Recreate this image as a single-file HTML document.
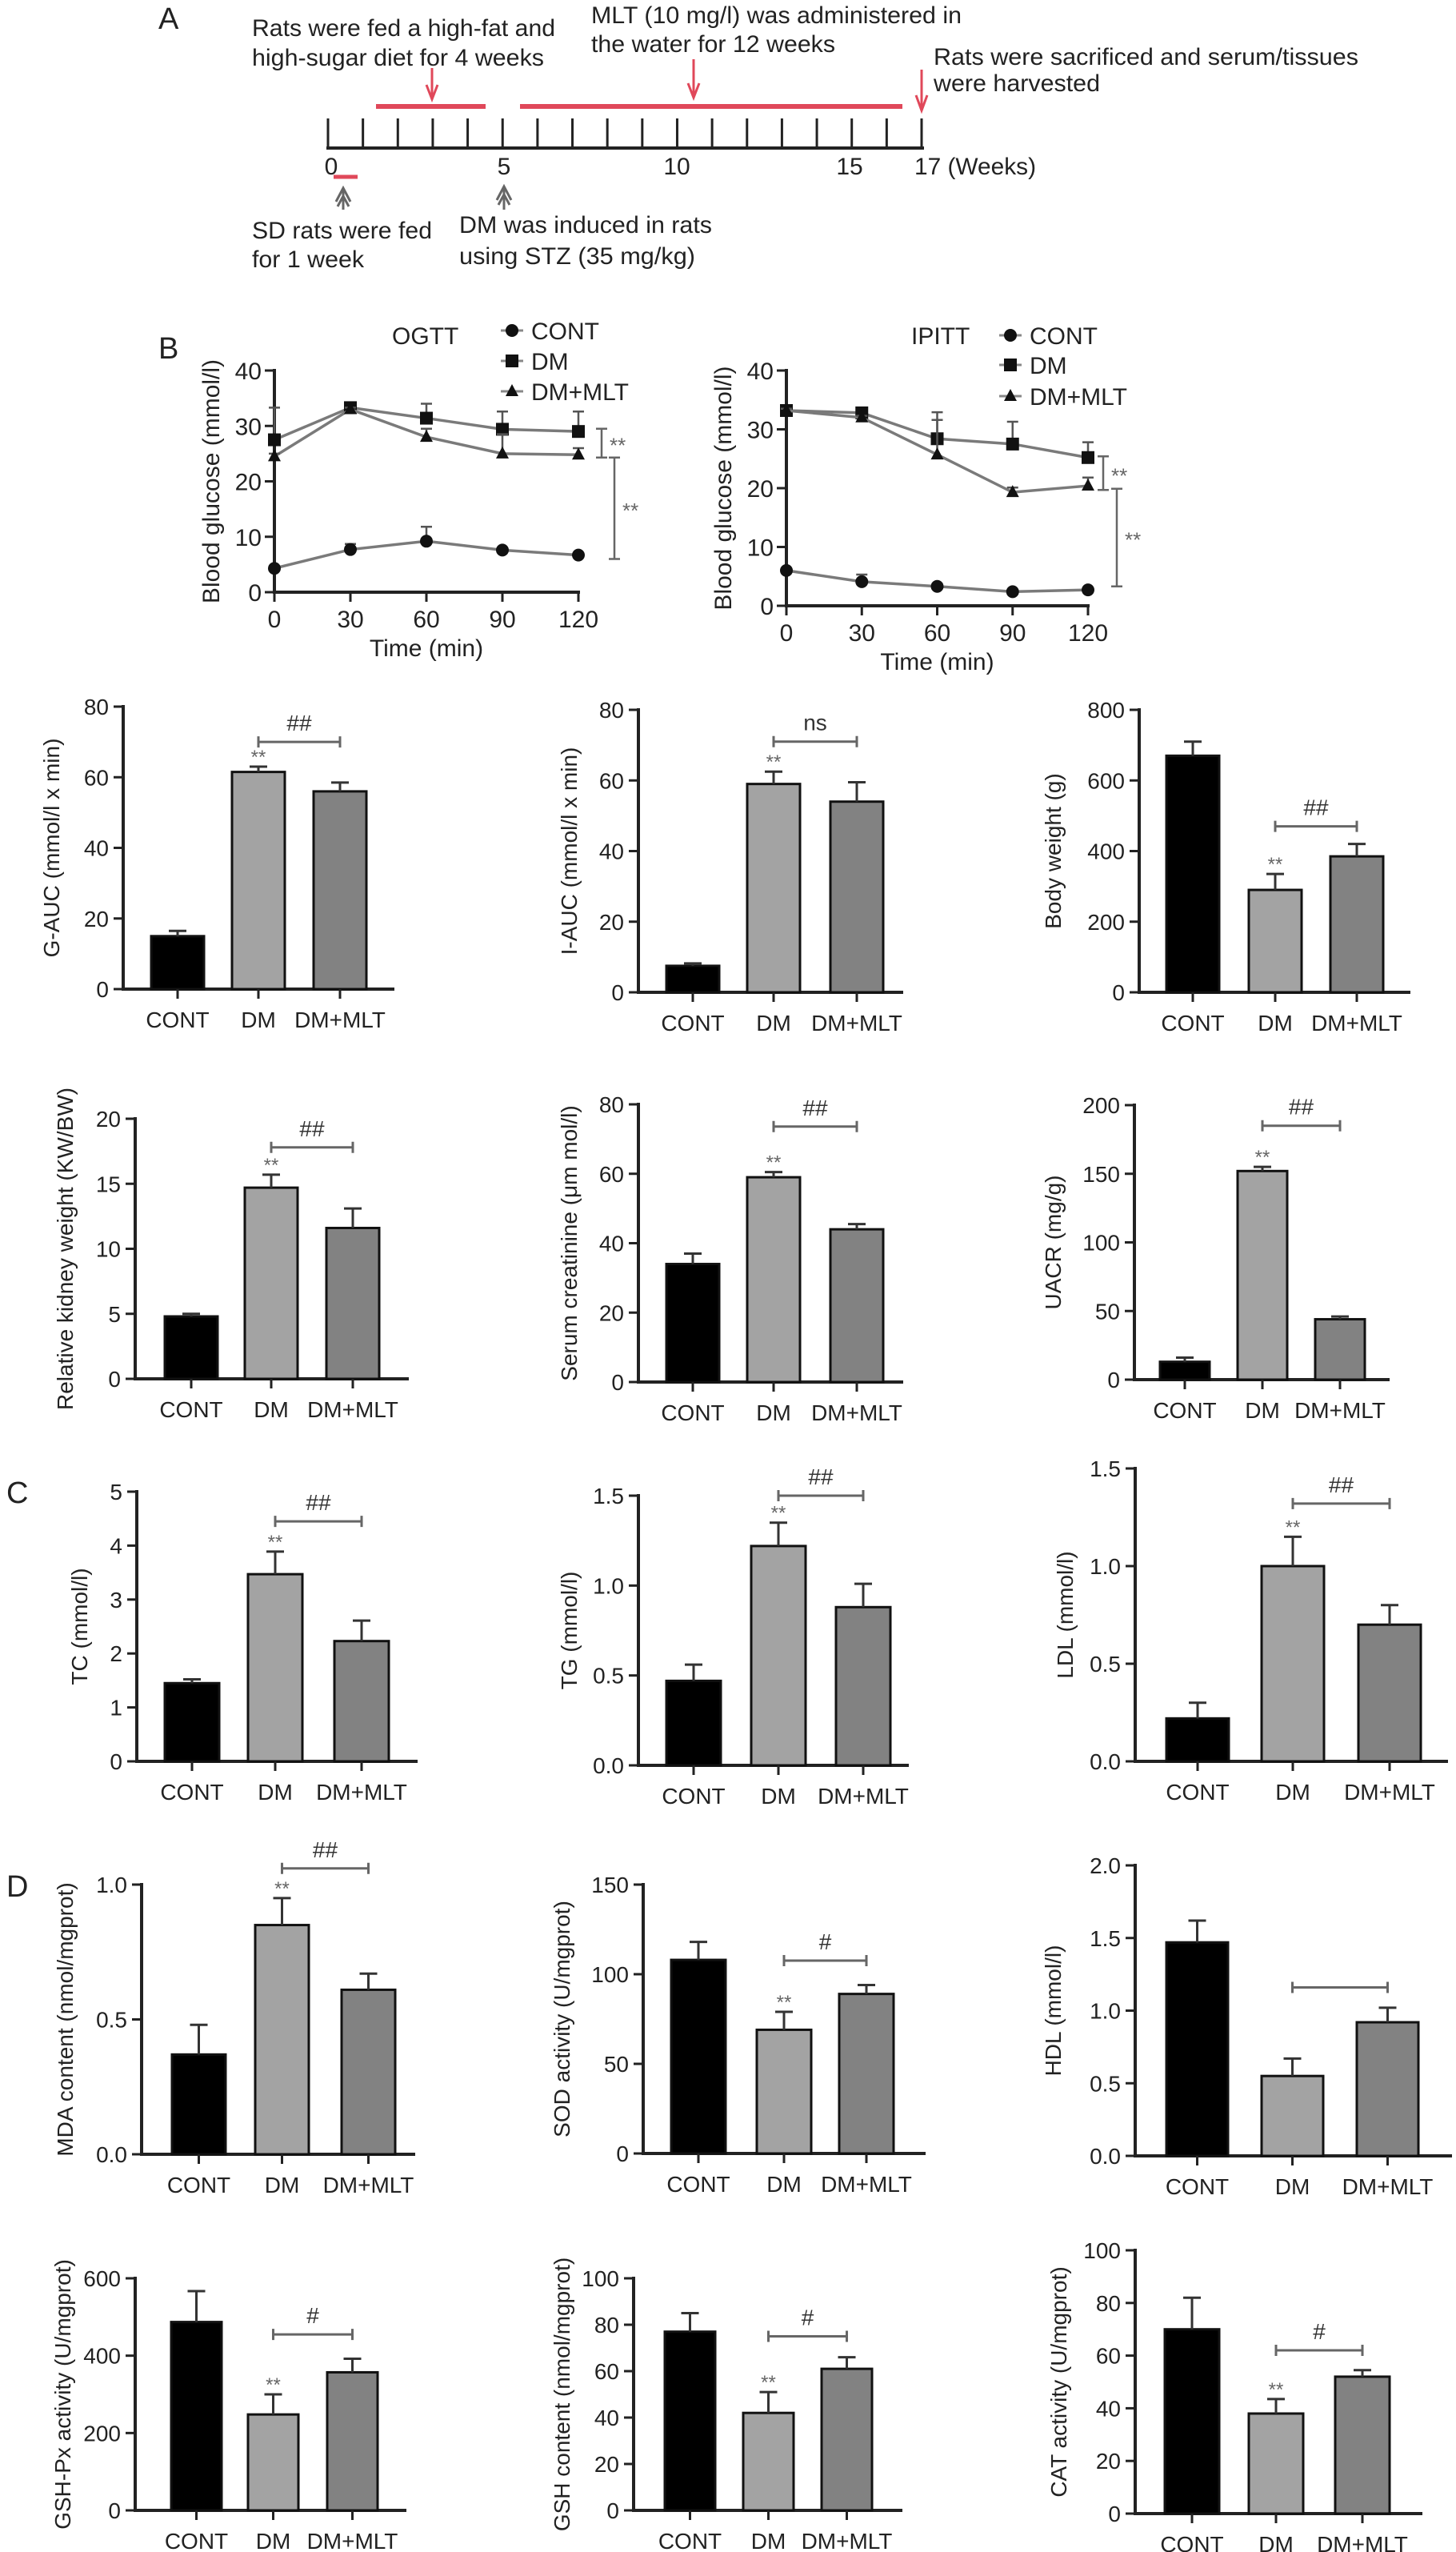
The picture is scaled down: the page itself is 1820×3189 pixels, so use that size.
<!DOCTYPE html>
<html><head><meta charset="utf-8"><title>Figure</title>
<style>
html,body{margin:0;padding:0;background:#fff;}
svg{display:block;font-family:"Liberation Sans",Arial,sans-serif;}
</style></head>
<body>
<svg id="fig" xmlns="http://www.w3.org/2000/svg" width="1820" height="3189" viewBox="0 0 1820 3189">
<rect x="0" y="0" width="1820" height="3189" fill="#fff"/>
<g id="panelA" fill="#222" font-size="30">
  <text x="198" y="36" font-size="38">A</text>
  <text x="315" y="45" textLength="379" lengthAdjust="spacingAndGlyphs">Rats were fed a high-fat and</text>
  <text x="315" y="82" textLength="365" lengthAdjust="spacingAndGlyphs">high-sugar diet for 4 weeks</text>
  <text x="739" y="29" textLength="463" lengthAdjust="spacingAndGlyphs">MLT (10 mg/l) was administered in</text>
  <text x="739" y="65" textLength="305" lengthAdjust="spacingAndGlyphs">the water for 12 weeks</text>
  <text x="1167" y="81" textLength="531" lengthAdjust="spacingAndGlyphs">Rats were sacrificed and serum/tissues</text>
  <text x="1167" y="114" textLength="208" lengthAdjust="spacingAndGlyphs">were harvested</text>
  <text x="315" y="298" textLength="225" lengthAdjust="spacingAndGlyphs">SD rats were fed</text>
  <text x="315" y="334" textLength="140" lengthAdjust="spacingAndGlyphs">for 1 week</text>
  <text x="574" y="291" textLength="316" lengthAdjust="spacingAndGlyphs">DM was induced in rats</text>
  <text x="574" y="330" textLength="295" lengthAdjust="spacingAndGlyphs">using STZ (35 mg/kg)</text>
  <text x="414" y="218" text-anchor="middle">0</text>
  <text x="630" y="218" text-anchor="middle">5</text>
  <text x="846" y="218" text-anchor="middle">10</text>
  <text x="1062" y="218" text-anchor="middle">15</text>
  <text x="1143" y="218" textLength="152" lengthAdjust="spacingAndGlyphs">17 (Weeks)</text>
  <line x1="408" y1="185" x2="1155" y2="185" stroke="#222" stroke-width="4"/>
  <g id="tlticks"></g>
  <line x1="470" y1="133" x2="607" y2="133" stroke="#e0485a" stroke-width="6"/>
  <line x1="650" y1="133" x2="1128" y2="133" stroke="#e0485a" stroke-width="6"/>
  <line x1="417" y1="221" x2="447" y2="221" stroke="#e0485a" stroke-width="5"/>
  <g stroke="#e0485a" stroke-width="3" fill="none">
    <path d="M540 85 V123 M533 106 L540 124 L547 106"/>
    <path d="M867 74 V121 M860 104 L867 122 L874 104"/>
    <path d="M1152 87 V137 M1145 119 L1152 138 L1159 119"/>
  </g>
  <g stroke="#666" stroke-width="3" fill="none">
    <path d="M429 262 V236 M420 252 L429 235 L438 252 M422 258 L429 245 L436 258"/>
    <path d="M630 262 V233 M621 250 L630 233 L639 250 M623 256 L630 243 L637 256"/>
  </g>
</g>
<g id="charts"></g>
</svg>
<script>
// ---------- data ----------
const groups = ['CONT', 'DM', 'DM+MLT'];
const timePoints = [0, 30, 60, 90, 120];
const glucoseTicks = [0, 10, 20, 30, 40];

const ogttCont = [4.3, 7.7, 9.2, 7.6, 6.7];
const ogttContErr = [0.3, 1.0, 2.6, 0.4, 0.3];
const ogttDm = [27.5, 33.3, 31.4, 29.4, 29.0];
const ogttDmErr = [5.8, 0.3, 2.6, 3.2, 3.6];
const ogttMlt = [24.5, 33.0, 28.0, 25.0, 24.8];
const ogttMltErr = [0.5, 0.3, 1.5, 3.5, 1.2];

const ipittCont = [6.0, 4.1, 3.3, 2.4, 2.7];
const ipittContErr = [0.3, 1.2, 0.4, 0.3, 0.3];
const ipittDm = [33.2, 32.8, 28.4, 27.5, 25.2];
const ipittDmErr = [0.3, 0.5, 4.5, 3.8, 2.6];
const ipittMlt = [33.2, 32.0, 25.7, 19.3, 20.4];
const ipittMltErr = [0.3, 0.3, 5.9, 0.8, 1.4];

const gaucVals = [15, 61.5, 56];   const gaucErr = [1.5, 1.5, 2.5];
const iaucVals = [7.5, 59, 54];    const iaucErr = [0.7, 3.5, 5.5];
const bodyVals = [670, 290, 385];  const bodyErr = [40, 45, 35];
const kidneyVals = [4.8, 14.7, 11.6]; const kidneyErr = [0.2, 1.0, 1.5];
const creatVals = [34, 59, 44];    const creatErr = [3, 1.5, 1.5];
const uacrVals = [13, 152, 44];    const uacrErr = [3, 3, 2];
const tcVals = [1.45, 3.47, 2.23]; const tcErr = [0.07, 0.42, 0.38];
const tgVals = [0.47, 1.22, 0.88]; const tgErr = [0.09, 0.13, 0.13];
const ldlVals = [0.22, 1.0, 0.7];  const ldlErr = [0.08, 0.15, 0.1];
const mdaVals = [0.37, 0.85, 0.61]; const mdaErr = [0.11, 0.1, 0.06];
const sodVals = [108, 69, 89];     const sodErr = [10, 10, 5];
const hdlVals = [1.47, 0.55, 0.92]; const hdlErr = [0.15, 0.12, 0.1];
const gpxVals = [487, 248, 357];   const gpxErr = [80, 52, 35];
const gshVals = [77, 42, 61];      const gshErr = [8, 9, 5];
const catVals = [70, 38, 52];      const catErr = [12, 5.5, 2.5];

// ---------- helpers ----------
const NS = 'http://www.w3.org/2000/svg';
const root = document.getElementById('charts');
function mk(tag, attrs, parent) {
  const e = document.createElementNS(NS, tag);
  for (const k in attrs) e.setAttribute(k, attrs[k]);
  (parent || root).appendChild(e);
  return e;
}
function fmt(v, dec) { return dec ? v.toFixed(dec) : String(Math.round(v)); }

// timeline ticks
const tl = document.getElementById('tlticks');
for (let w = 0; w <= 17; w++) {
  const x = 410 + w * (1152 - 410) / 17;
  const t = mk('line', {x1: x, y1: 148, x2: x, y2: 185, stroke: '#222', 'stroke-width': 3}, tl);
  
  
}

// ---------- bar charts ----------
const barFills = ['#000000', '#a3a3a3', '#828282'];
function drawBar(cfg, vals, errs) {
  const g = mk('g', {});
  
  
  const sy = v => cfg.y0 - (v / cfg.max) * (cfg.y0 - cfg.yTop);
  const ya = mk('line', {x1: cfg.ax, y1: cfg.yTop - 2, x2: cfg.ax, y2: cfg.y0 + 2, stroke: '#222', 'stroke-width': 4}, g);
  
  
  const xa = mk('line', {x1: cfg.ax - 2, y1: cfg.y0, x2: cfg.end, y2: cfg.y0, stroke: '#222', 'stroke-width': 4}, g);
  
  
  for (let v = 0; v <= cfg.max + 1e-9; v += cfg.step) {
    const y = sy(v);
    const tk = mk('line', {x1: cfg.ax - 12, y1: y, x2: cfg.ax, y2: y, stroke: '#222', 'stroke-width': 3}, g);
    
    
    const tl = mk('text', {x: cfg.ax - 18, y: y + 10, 'text-anchor': 'end', 'font-size': 28, fill: '#222'}, g);
    tl.textContent = fmt(v, cfg.dec);
    
    
  }
  const centers = [];
  for (let i = 0; i < vals.length; i++) {
    const x = cfg.bars[i], cx = x + cfg.bw / 2;
    centers.push(cx);
    const top = sy(vals[i]);
    const b = mk('rect', {x: x, y: top, width: cfg.bw, height: cfg.y0 - top, fill: barFills[i], stroke: '#111', 'stroke-width': 3}, g);
    
    
    const et = sy(vals[i] + errs[i]);
    const e = mk('path', {d: `M${cx} ${top} V${et} M${cx - 11} ${et} H${cx + 11}`, stroke: '#333', 'stroke-width': 3, fill: 'none'}, g);
    
    
    const xt = mk('line', {x1: cx, y1: cfg.y0, x2: cx, y2: cfg.y0 + 12, stroke: '#222', 'stroke-width': 3}, g);
    
    
    const xl = mk('text', {x: cx, y: cfg.y0 + 48, 'text-anchor': 'middle', 'font-size': 28, fill: '#222'}, g);
    xl.textContent = groups[i];
    
    
  }
  const midY = (cfg.y0 + cfg.yTop) / 2;
  const tx = cfg.ax + cfg.tOff;
  const t = mk('text', {x: tx, y: midY, 'text-anchor': 'middle', 'font-size': 28, fill: '#222', transform: `rotate(-90 ${tx} ${midY})`, dy: 10}, g);
  t.textContent = cfg.title;
  
  
  if (cfg.stars) {
    const s = mk('text', {x: centers[1], y: sy(vals[1] + errs[1]) - 4, 'text-anchor': 'middle', 'font-size': 24, fill: '#666'}, g);
    s.textContent = '**';
    
    
  }
  if (cfg.brV !== undefined) {
    const by = sy(cfg.brV);
    const br = mk('path', {d: `M${centers[1]} ${by} H${centers[2]} M${centers[1]} ${by - 7} V${by + 7} M${centers[2]} ${by - 7} V${by + 7}`, stroke: '#666', 'stroke-width': 3, fill: 'none'}, g);
    
    
    if (cfg.brT) {
      const bt = mk('text', {x: (centers[1] + centers[2]) / 2, y: by - 14, 'text-anchor': 'middle', 'font-size': 28, fill: '#333'}, g);
      bt.textContent = cfg.brT;
      
      
    }
  }
}

drawBar({name: 'g-auc', ax: 154, y0: 1236, yTop: 883, max: 80, step: 20, dec: 0, bars: [189, 290, 392], bw: 66, end: 493, tOff: -90, title: 'G-AUC (mmol/l x min)', stars: true, brV: 70, brT: '##'}, gaucVals, gaucErr);
drawBar({name: 'i-auc', ax: 798, y0: 1240, yTop: 887, max: 80, step: 20, dec: 0, bars: [833, 934, 1038], bw: 66, end: 1129, tOff: -87, title: 'I-AUC (mmol/l x min)', stars: true, brV: 71, brT: 'ns'}, iaucVals, iaucErr);
drawBar({name: 'body-weight', ax: 1424, y0: 1240, yTop: 887, max: 800, step: 200, dec: 0, bars: [1458, 1561, 1663], bw: 66, end: 1763, tOff: -108, title: 'Body weight (g)', stars: true, brV: 470, brT: '##'}, bodyVals, bodyErr);
drawBar({name: 'kidney-weight', ax: 169, y0: 1723, yTop: 1398, max: 20, step: 5, dec: 0, bars: [206, 306, 408], bw: 66, end: 511, tOff: -88, title: 'Relative kidney weight (KW/BW)', stars: true, brV: 17.8, brT: '##'}, kidneyVals, kidneyErr);
drawBar({name: 'serum-creatinine', ax: 798, y0: 1727, yTop: 1380, max: 80, step: 20, dec: 0, bars: [833, 934, 1038], bw: 66, end: 1129, tOff: -87, title: 'Serum  creatinine (\u03bcm mol/l)', stars: true, brV: 73.6, brT: '##'}, creatVals, creatErr);
drawBar({name: 'uacr', ax: 1418, y0: 1724, yTop: 1381, max: 200, step: 50, dec: 0, bars: [1450, 1547, 1644], bw: 62, end: 1737, tOff: -102, title: 'UACR (mg/g)', stars: true, brV: 185, brT: '##'}, uacrVals, uacrErr);
drawBar({name: 'tc', ax: 171, y0: 2201, yTop: 1864, max: 5, step: 1, dec: 0, bars: [206, 310, 418], bw: 68, end: 522, tOff: -72, title: 'TC (mmol/l)', stars: true, brV: 4.45, brT: '##'}, tcVals, tcErr);
drawBar({name: 'tg', ax: 798, y0: 2206, yTop: 1869, max: 1.5, step: 0.5, dec: 1, bars: [833, 939, 1045], bw: 68, end: 1136, tOff: -87, title: 'TG (mmol/l)', stars: true, brV: 1.5, brT: '##'}, tgVals, tgErr);
drawBar({name: 'ldl', ax: 1419, y0: 2201, yTop: 1835, max: 1.5, step: 0.5, dec: 1, bars: [1458, 1577, 1698], bw: 78, end: 1810, tOff: -88, title: 'LDL (mmol/l)', stars: true, brV: 1.32, brT: '##'}, ldlVals, ldlErr);
drawBar({name: 'mda', ax: 177, y0: 2692, yTop: 2355, max: 1.0, step: 0.5, dec: 1, bars: [215, 319, 427], bw: 67, end: 519, tOff: -96, title: 'MDA content (nmol/mgprot)', stars: true, brV: 1.06, brT: '##'}, mdaVals, mdaErr);
drawBar({name: 'sod', ax: 804, y0: 2691, yTop: 2355, max: 150, step: 50, dec: 0, bars: [839, 946, 1049], bw: 68, end: 1157, tOff: -102, title: 'SOD activity (U/mgprot)', stars: true, brV: 107.6, brT: '#'}, sodVals, sodErr);
drawBar({name: 'hdl', ax: 1419, y0: 2694, yTop: 2331, max: 2.0, step: 0.5, dec: 1, bars: [1458, 1577, 1696], bw: 77, end: 1815, tOff: -103, title: 'HDL (mmol/l)', stars: false, brV: 1.16, brT: ''}, hdlVals, hdlErr);
drawBar({name: 'gsh-px', ax: 169, y0: 3137, yTop: 2847, max: 600, step: 200, dec: 0, bars: [214, 310, 409], bw: 63, end: 508, tOff: -91, title: 'GSH-Px activity (U/mgprot)', stars: true, brV: 455, brT: '#'}, gpxVals, gpxErr);
drawBar({name: 'gsh', ax: 792, y0: 3137, yTop: 2847, max: 100, step: 20, dec: 0, bars: [831, 929, 1027], bw: 63, end: 1128, tOff: -90, title: 'GSH content (nmol/mgprot)', stars: true, brV: 75, brT: '#'}, gshVals, gshErr);
drawBar({name: 'cat', ax: 1419, y0: 3141, yTop: 2812, max: 100, step: 20, dec: 0, bars: [1456, 1561, 1669], bw: 68, end: 1778, tOff: -96, title: 'CAT activity (U/mgprot)', stars: true, brV: 62, brT: '#'}, catVals, catErr);

// ---------- line charts ----------
function marker(g, kind, x, y) {
  let m;
  if (kind === 'circle') m = mk('circle', {cx: x, cy: y, r: 8, fill: '#111'}, g);
  else if (kind === 'square') m = mk('rect', {x: x - 8, y: y - 8, width: 16, height: 16, fill: '#111'}, g);
  else m = mk('path', {d: `M${x} ${y - 9} L${x + 8} ${y + 6} L${x - 8} ${y + 6} Z`, fill: '#111'}, g);
  return m;
}
function drawLine(cfg, series) {
  const g = mk('g', {});
  
  
  const sx = t => cfg.ax + (t / 120) * (cfg.x120 - cfg.ax);
  const sy = v => cfg.y0 - (v / 40) * (cfg.y0 - cfg.y40);
  const ya = mk('line', {x1: cfg.ax, y1: cfg.y40 - 2, x2: cfg.ax, y2: cfg.y0 + 2, stroke: '#222', 'stroke-width': 4}, g);
  
  
  const xa = mk('line', {x1: cfg.ax - 2, y1: cfg.y0, x2: cfg.x120 + 2, y2: cfg.y0, stroke: '#222', 'stroke-width': 4}, g);
  
  
  glucoseTicks.forEach(v => {
    const y = sy(v);
    const tk = mk('line', {x1: cfg.ax - 12, y1: y, x2: cfg.ax, y2: y, stroke: '#222', 'stroke-width': 3}, g);
    
    
    const tl = mk('text', {x: cfg.ax - 16, y: y + 11, 'text-anchor': 'end', 'font-size': 30, fill: '#222'}, g);
    tl.textContent = String(v);
    
    
  });
  timePoints.forEach(t => {
    const x = sx(t);
    const tk = mk('line', {x1: x, y1: cfg.y0, x2: x, y2: cfg.y0 + 12, stroke: '#222', 'stroke-width': 3}, g);
    
    
    const tl = mk('text', {x: x, y: cfg.y0 + 44, 'text-anchor': 'middle', 'font-size': 30, fill: '#222'}, g);
    tl.textContent = String(t);
    
    
  });
  const xt = mk('text', {x: (cfg.ax + cfg.x120) / 2, y: cfg.y0 + 80, 'text-anchor': 'middle', 'font-size': 30, fill: '#222'}, g);
  xt.textContent = 'Time (min)';
  
  
  const my = (cfg.y0 + cfg.y40) / 2, tx = cfg.ax - 80;
  const yt = mk('text', {x: tx, y: my, dy: 11, 'text-anchor': 'middle', 'font-size': 30, fill: '#222', transform: `rotate(-90 ${tx} ${my})`}, g);
  yt.textContent = 'Blood glucose (mmol/l)';
  
  
  const ti = mk('text', {x: cfg.titleX, y: 430, 'font-size': 30, fill: '#222'}, g);
  ti.textContent = cfg.title;
  
  
  series.forEach((s, si) => {
    const pts = timePoints.map((t, i) => sx(t) + ',' + sy(s.vals[i])).join(' ');
    const pl = mk('polyline', {points: pts, fill: 'none', stroke: '#7a7a7a', 'stroke-width': 3.5}, g);
    
    
    timePoints.forEach((t, i) => {
      const x = sx(t), y = sy(s.vals[i]), et = sy(s.vals[i] + s.errs[i]);
      const e = mk('path', {d: `M${x} ${y} V${et} M${x - 7} ${et} H${x + 7}`, stroke: '#555', 'stroke-width': 2.5, fill: 'none'}, g);
      
      
      const m = marker(g, s.marker, x, y);
      
      
    });
    // legend entry
    const ly = cfg.legY[si];
    const ll = mk('line', {x1: cfg.legX - 14, y1: ly - 11, x2: cfg.legX + 14, y2: ly - 11, stroke: '#888', 'stroke-width': 3}, g);
    
    
    const lm = marker(g, s.marker, cfg.legX, ly - 11);
    
    
    const lt = mk('text', {x: cfg.legX + 24, y: ly, 'font-size': 30, fill: '#222'}, g);
    lt.textContent = groups[si];
    
    
  });
  cfg.brackets.forEach(b => {
    const y1 = sy(b.from), y2 = sy(b.to);
    const p = mk('path', {d: `M${b.x} ${y1} V${y2} M${b.x - 7} ${y1} H${b.x + 7} M${b.x - 7} ${y2} H${b.x + 7}`, stroke: '#666', 'stroke-width': 2.5, fill: 'none'}, g);
    
    
    const st = mk('text', {x: b.x + 10, y: (y1 + y2) / 2 + 12, 'font-size': 26, fill: '#666'}, g);
    st.textContent = '**';
    
    
  });
}

const bl = mk('text', {x: 198, y: 448, 'font-size': 38, fill: '#222'});
bl.textContent = 'B';


const cl = mk('text', {x: 8, y: 1878, 'font-size': 38, fill: '#222'});
cl.textContent = 'C';


const dl = mk('text', {x: 8, y: 2370, 'font-size': 38, fill: '#222'});
dl.textContent = 'D';



drawLine({name: 'ogtt', title: 'OGTT', titleX: 490, ax: 343, x120: 723, y0: 740, y40: 463, legX: 640, legY: [424, 462, 500],
  brackets: [{x: 752, from: 29.5, to: 24.3}, {x: 768, from: 24.3, to: 6}]},
  [{key: 'cont', marker: 'circle', vals: ogttCont, errs: ogttContErr},
   {key: 'dm', marker: 'square', vals: ogttDm, errs: ogttDmErr},
   {key: 'dm-mlt', marker: 'triangle', vals: ogttMlt, errs: ogttMltErr}]);
drawLine({name: 'ipitt', title: 'IPITT', titleX: 1139, ax: 983, x120: 1360, y0: 757, y40: 463, legX: 1263, legY: [430, 467, 506],
  brackets: [{x: 1379, from: 25.4, to: 19.7}, {x: 1396, from: 19.9, to: 3.3}]},
  [{key: 'cont', marker: 'circle', vals: ipittCont, errs: ipittContErr},
   {key: 'dm', marker: 'square', vals: ipittDm, errs: ipittDmErr},
   {key: 'dm-mlt', marker: 'triangle', vals: ipittMlt, errs: ipittMltErr}]);
</script>
</body></html>
